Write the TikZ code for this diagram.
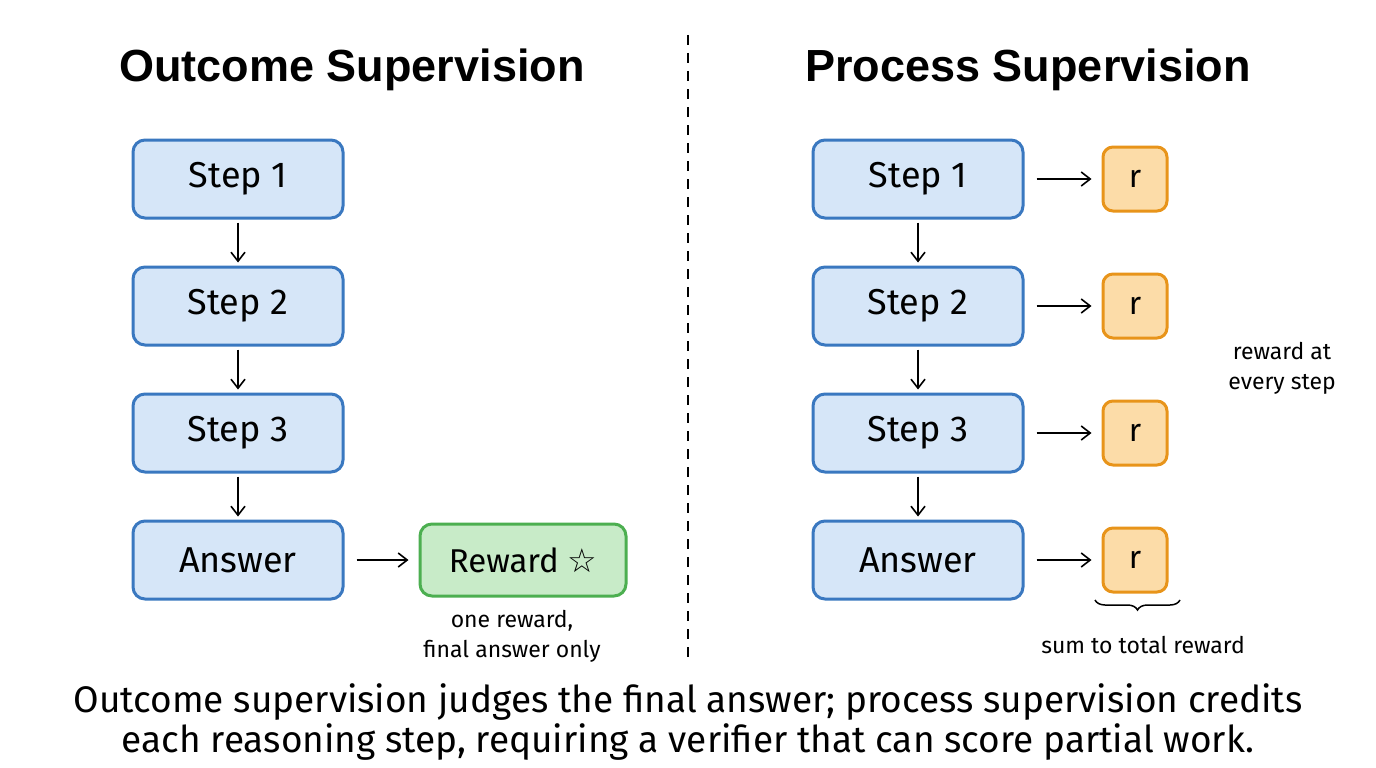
\documentclass[tikz,border=0pt]{standalone}
\usepackage{fontspec}
\setmainfont{Fira Sans}
\newfontfamily\titlefont{Liberation Sans}
\newfontfamily\symfont{DejaVu Sans}
\usetikzlibrary{decorations.pathreplacing,arrows.meta}
\definecolor{bfill}{HTML}{D6E6F8}\definecolor{bline}{HTML}{3A78C0}
\definecolor{gfill}{HTML}{C8EBC8}\definecolor{gline}{HTML}{4CAF50}
\definecolor{ofill}{HTML}{FCDCA8}\definecolor{oline}{HTML}{E8941A}
\begin{document}
\begin{tikzpicture}[x=1pt,y=-1pt,
 stepbox/.style={draw=bline,fill=bfill,line width=3pt,rounded corners=12pt,minimum width=210pt,minimum height=78pt,font=\fontsize{36}{40}\selectfont},
 rew/.style={draw=gline,fill=gfill,line width=3pt,rounded corners=12pt,minimum width=206pt,minimum height=72pt,font=\fontsize{33}{38}\selectfont},
 rr/.style={draw=oline,fill=ofill,line width=3pt,rounded corners=10pt,minimum width=64pt,minimum height=64pt,font=\fontsize{32}{36}\selectfont},
 arr/.style={-{Straight Barb[length=9pt,width=14pt]},line width=1.6pt},
 ann/.style={font=\fontsize{23}{30}\selectfont,align=center},
 ttl/.style={font=\titlefont\bfseries\fontsize{45}{50}\selectfont}]
\useasboundingbox[fill=white] (0,0) rectangle (1376,768);
\node[ttl] (t1) at (352,70) {Outcome Supervision};
\node[ttl] (t2) at (1028,70) {Process Supervision};
\coordinate (d1) at (688,35); \coordinate (d2) at (688,660);
\draw[line width=1.6pt,dash pattern=on 10pt off 8pt] (d1) -- (d2);
\foreach \n/\t/\y in {1/Step 1/179,2/Step 2/306,3/Step 3/433,4/Answer/560}{
 \node[stepbox] (a\n) at (238,\y) {\t};
 \node[stepbox] (b\n) at (918,\y) {\t};
 \node[rr] (r\n) at (1135,\y) {r};
 \draw[arr] ([xshift=12pt]b\n.east) -- ([xshift=-10pt]r\n.west);
}
\foreach \i/\j in {1/2,2/3,3/4}{
 \draw[arr] ([yshift=-3pt]a\i.south) -- ([yshift=3pt]a\j.north);
 \draw[arr] ([yshift=-3pt]b\i.south) -- ([yshift=3pt]b\j.north);
}
\node[rew] (rw) at (523,560) {Reward {\symfont ☆}};
\draw[arr] ([xshift=12pt]a4.east) -- ([xshift=-10pt]rw.west);
\node[ann] (n1) at (512,636) {one reward,\\final answer only};
\node[ann] (n2) at (1282,368) {reward at\\every step};
\draw[decorate,decoration={brace,amplitude=10pt,mirror},line width=1.5pt] (1095,600) -- (1180,600);
\node[ann] (n3) at (1143,645) {sum to total reward};
\node[font=\fontsize{37}{40}\selectfont,align=center] (cap) at (688,722) {Outcome supervision judges the final answer; process supervision credits\\each reasoning step, requiring a verifier that can score partial work.};
\end{tikzpicture}
\end{document}
